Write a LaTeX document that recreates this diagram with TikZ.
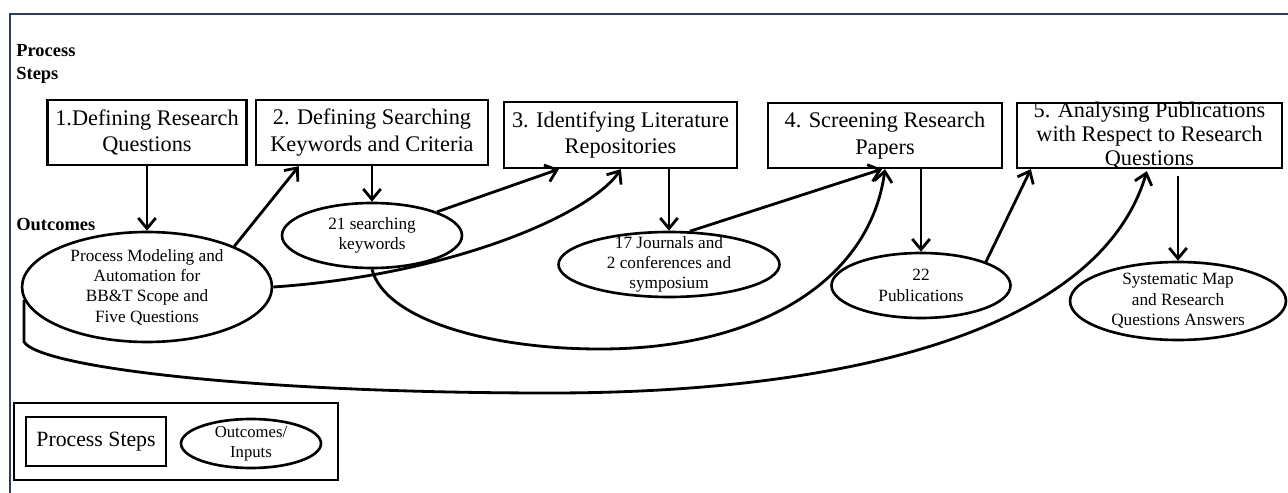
\documentclass[tikz,border=0pt]{standalone}
\usepackage{fontspec}
\setmainfont{Liberation Serif}
\usetikzlibrary{arrows.meta,calc,shapes.geometric}
\definecolor{framecol}{HTML}{2E3D5F}
\begin{document}
\begin{tikzpicture}[x=0.02cm,y=-0.02cm,
  stepbox/.style={draw,line width=1.3pt,rectangle,inner sep=0pt,align=center,
    font=\fontsize{12.7}{15.3}\selectfont},
  outbox/.style={draw,line width=1.5pt,ellipse,inner sep=0pt},
  otext/.style={align=center,font=\fontsize{9.8}{11.6}\selectfont},
  lbl/.style={align=left,font=\fontsize{10.5}{13}\selectfont\bfseries,inner sep=0pt},
  arr/.style={line width=1.6pt,-{Straight Barb[length=6pt,width=10pt]}},
  link/.style={line width=1.6pt}]
\useasboundingbox (0,0) rectangle (1288,493);
\fill[white] (0,0) rectangle (1288,493);
\draw[framecol,line width=1.4pt] (10,493) -- (10,14) -- (1288,14);

% side labels
\node[lbl,anchor=west] (lps) at (16,64) {Process\\Steps};
\node[lbl,anchor=west] (lout) at (16,225) {Outcomes};

% process steps
\node[stepbox,minimum width=3.98cm,minimum height=1.3cm] (b1) at (147,132.5) {1.Defining Research\\Questions};
\node[stepbox,minimum width=4.64cm,minimum height=1.3cm] (b2) at (372,132.5) {2. Defining Searching\\Keywords and Criteria};
\node[stepbox,minimum width=4.66cm,minimum height=1.32cm] (b3) at (620.5,135) {3. Identifying Literature\\Repositories};
\node[stepbox,minimum width=4.68cm,minimum height=1.3cm] (b4) at (885,135.5) {4. Screening Research\\Papers};
\node[stepbox,minimum width=5.3cm,minimum height=1.3cm,
  label={[align=center,inner sep=0pt,font=\fontsize{12.7}{13.6}\selectfont]center:{5. Analysing Publications\\with Respect to Research\\Questions}}] (b5) at (1149.5,135.5) {};

% outcomes
\node[outbox,minimum width=5.0cm,minimum height=2.2cm,
  label={[otext]center:{Process Modeling and\\Automation for\\BB\&T Scope and\\Five Questions}}] (e1) at (147,287) {};
\node[outbox,minimum width=3.6cm,minimum height=1.3cm,
  label={[otext]center:{21 searching\\keywords}}] (e2) at (372,235.5) {};
\node[outbox,minimum width=4.42cm,minimum height=1.3cm,
  label={[otext]center:{17 Journals and\\2 conferences and\\symposium}}] (e3) at (669,264.5) {};
\node[outbox,minimum width=3.58cm,minimum height=1.3cm,
  label={[otext]center:{22\\Publications}}] (e4) at (921,285.5) {};
\node[outbox,minimum width=4.32cm,minimum height=1.56cm,
  label={[otext]center:{Systematic Map\\and Research\\Questions Answers}}] (e5) at (1178,301) {};

% connectors
\draw[arr] (b1.south) -- (e1.north);
\draw[arr] (e1.25) -- ($(b2.south west)+(44,0)$);
\draw[arr] (b2.south) -- (e2.north);
\draw[arr] (e2.20) -- ($(b3.south west)+(56,0)$);
\draw[arr] (e1.east) .. controls (450,275) and (590,215) .. ($(b3.south west)+(118,0)$);
\draw[arr] (e2.south) .. controls (385,320) and (490,349) .. (600,349)
  .. controls (760,349) and (870,280) .. (b4.south);
\draw[arr] (e3.north |- b3.south) -- (e3.north);
\draw[arr] (e3.58) -- ($(b4.south)+(-3,0)$);
\draw[arr] (e4.north |- b4.south) -- (e4.north);
\draw[arr] (e4.20) -- ($(b5.south west)+(15,0)$);
\draw[arr] ($(e5.north |- b5.south)+(0,7)$) -- (e5.north);
\draw[arr] (e1.186) -- ++(0,42) .. controls +(15,25) and (250,393) .. (550,393)
  .. controls (850,393) and (1100,330) .. ($(b5.south west)+(131,2)$);

% legend
\node[draw,line width=1.3pt,minimum width=6.48cm,minimum height=1.54cm,inner sep=0pt] (leg) at (176,441.5) {};
\node[stepbox,minimum width=2.8cm,minimum height=0.98cm,font=\fontsize{12.4}{14}\selectfont] (lgs) at (96,441.5) {Process Steps};
\node[outbox,minimum width=2.8cm,minimum height=0.98cm,
  label={[align=center,font=\fontsize{9.5}{11.5}\selectfont]center:{Outcomes/\\Inputs}}] (lgo) at (251,443.5) {};
\end{tikzpicture}
\end{document}
